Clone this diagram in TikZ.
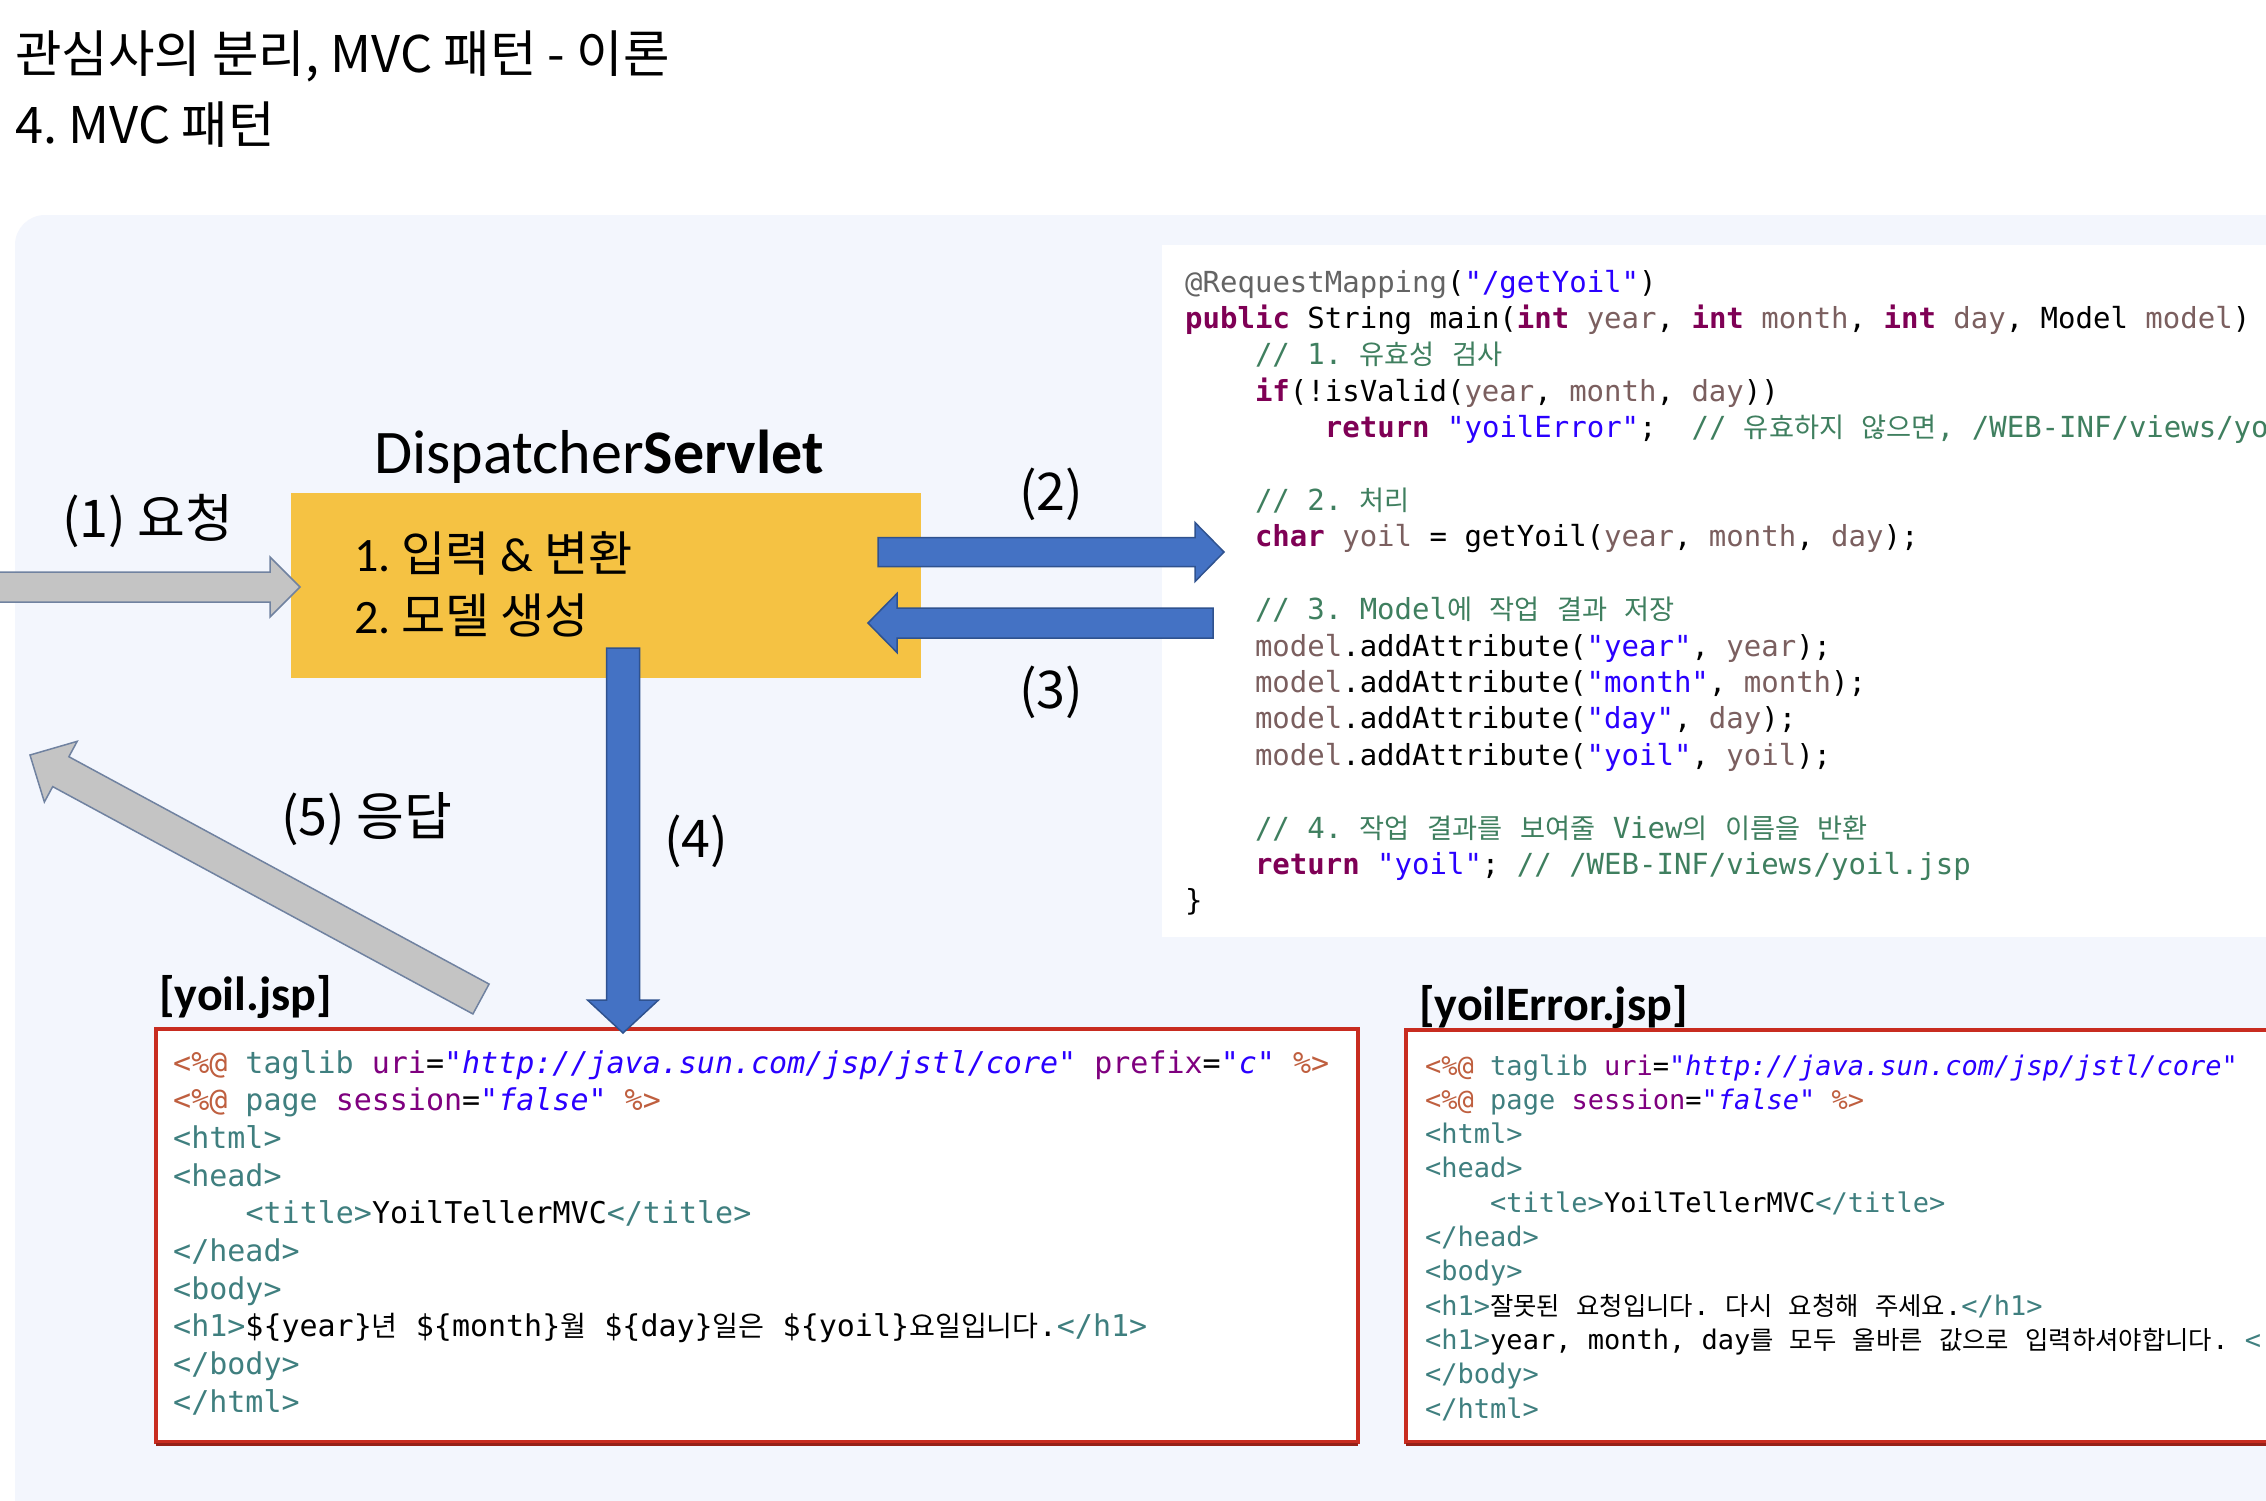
\documentclass[tikz,border=0pt]{standalone}
\usepackage{fontspec}
\setmonofont{DejaVu Sans Mono}
\newfontfamily\krf{Noto Sans CJK KR}
\newfontfamily\kmono[Scale=0.94]{Noto Sans CJK KR}
\newfontfamily\calf{Carlito}
\usetikzlibrary{calc}
\frenchspacing
\definecolor{bgc}{RGB}{243,246,253}
\definecolor{ylw}{RGB}{245,194,67}
\definecolor{bluefill}{RGB}{68,114,196}
\definecolor{blueline}{RGB}{47,82,143}
\definecolor{grayfill}{RGB}{196,196,196}
\definecolor{grayline}{RGB}{112,130,160}
\definecolor{redc}{RGB}{200,44,32}
\definecolor{kwc}{HTML}{7F0055}
\definecolor{cmc}{HTML}{3F7F5F}
\definecolor{stc}{HTML}{2A00FF}
\definecolor{vac}{HTML}{7B5F5F}
\definecolor{anc}{HTML}{646464}
\definecolor{jdc}{HTML}{BF5F3F}
\definecolor{jnc}{HTML}{3F7F7F}
\definecolor{jac}{HTML}{7F007F}
\definecolor{jtc}{HTML}{3F7F7F}
\newcommand\ckw[1]{{\bfseries\color{kwc}#1}}
\newcommand\ccm[1]{{\color{cmc}#1}}
\newcommand\cst[1]{{\color{stc}#1}}
\newcommand\cva[1]{{\color{vac}#1}}
\newcommand\can[1]{{\color{anc}#1}}
\newcommand\hk[1]{{\kmono #1}}
\newcommand\jd[1]{{\color{jdc}#1}}
\newcommand\jn[1]{{\color{jnc}#1}}
\newcommand\ja[1]{{\color{jac}#1}}
\newcommand\jv[1]{{\itshape\color{stc}#1}}
\newcommand\jt[1]{{\color{jtc}#1}}
% block arrow: #1 start, #2 end, #3 shaft half width, #4 head half width, #5 head length, #6 style
\newcommand\blockarrow[6]{%
  \coordinate (#1#2h) at ($(#2)!#5!(#1)$);
  \path[#6] ($(#1)!#3!90:(#2)$) -- ($(#1#2h)!#3!-90:(#1)$) -- ($(#1#2h)!#4!-90:(#1)$) -- (#2)
    -- ($(#1#2h)!#4!90:(#1)$) -- ($(#1#2h)!#3!90:(#1)$) -- ($(#1)!#3!-90:(#2)$) -- cycle;
}
\tikzset{
  box/.style={anchor=north west, inner sep=0pt, outer sep=0pt},
  jspbox/.style={fill=white, draw=redc, line width=3.5pt},
  codeln/.style={anchor=base west, inner sep=0pt, font=\fontsize{29}{36}\ttfamily},
  jspa/.style={anchor=base west, inner sep=0pt, font=\fontsize{30}{37}\ttfamily},
  jspb/.style={anchor=base west, inner sep=0pt, font=\fontsize{27}{34}\ttfamily},
  lbl/.style={inner sep=0pt, font=\fontsize{52}{60}\selectfont\krf},
  bluearrow/.style={fill=bluefill, draw=blueline, line width=1.5pt},
  grayarrow/.style={fill=grayfill, draw=grayline, line width=1.5pt},
}
\begin{document}
\begin{tikzpicture}[x=1pt,y=-1pt]
\useasboundingbox (0,0) rectangle (2266,1500);
\clip (0,0) rectangle (2266,1500);
\fill[white] (0,0) rectangle (2266,1500);
\fill[bgc, rounded corners=30pt] (15,215) rectangle (2340,1560);

% title
\node[anchor=base west, inner sep=0pt, font=\fontsize{50.5}{58}\selectfont\krf] (t1) at (15,72) {관심사의 분리, MVC 패턴 - 이론};
\node[anchor=base west, inner sep=0pt, font=\fontsize{50.5}{58}\selectfont\krf] (t2) at (15,143) {4. MVC 패턴};

% boxes
\node[box, fill=white, minimum width=1160pt, minimum height=692pt] (code) at (1162,245) {};
\node[box, fill=ylw, minimum width=630pt, minimum height=185pt] (ds) at (291,493) {};
\node[box, jspbox, minimum width=1202pt, minimum height=413pt] (jsp1) at (156,1029) {};
\node[box, jspbox, minimum width=900pt, minimum height=412pt] (jsp2) at (1406,1030) {};
\draw[redc!75!black, line width=2.5pt] ($(jsp1.south west)+(0,2.5)$) -- ($(jsp1.south east)+(0,2.5)$);
\draw[redc!75!black, line width=2.5pt] ($(jsp2.south west)+(0,2.5)$) -- ($(jsp2.south east)+(0,2.5)$);

% labels
\node[anchor=base west, inner sep=0pt, font=\fontsize{62}{70}\selectfont\calf] (dsname) at (374,473) {Dispatcher\textbf{Servlet}};
\node[anchor=base west, inner sep=0pt, font=\fontsize{48}{56}\selectfont\calf] (s1) at (354,571) {1. {\krf 입력} \& {\krf 변환}};
\node[anchor=base west, inner sep=0pt, font=\fontsize{48}{56}\selectfont\calf] (s2) at (354,633) {2. {\krf 모델} {\krf 생성}};
\node[lbl, anchor=base west] (l1) at (62,537) {(1) 요청};
\node[lbl, anchor=base] (l2) at (1051,510) {(2)};
\node[lbl, anchor=base] (l3) at (1051,708) {(3)};
\node[lbl, anchor=base] (l4) at (696,857) {(4)};
\node[lbl, anchor=base west] (l5) at (281,835) {(5) 응답};
\node[anchor=base west, inner sep=0pt, font=\fontsize{48}{56}\selectfont\calf\bfseries] (n1) at (159,1010) {[yoil.jsp]};
\node[anchor=base west, inner sep=0pt, font=\fontsize{48}{56}\selectfont\calf\bfseries] (n2) at (1419,1020) {[yoilError.jsp]};

% arrows
\coordinate (a1s) at (-20,587);
\coordinate (a1e) at ($(ds.west)+(9,1.5)$);
\coordinate (a2s) at ($(ds.east)+(-43,-33.5)$);
\coordinate (a2e) at ($(code.west)+(62,-39)$);
\coordinate (a3s) at ($(code.west)+(51,32)$);
\coordinate (a3e) at ($(ds.east)+(-53,37.5)$);
\coordinate (a4s) at ($(ds.south)+(17,-30)$);
\coordinate (a4e) at ($(jsp1.north)+(-134,4)$);
\coordinate (a5s) at ($(jsp1.north west)+(325,-30)$);
\coordinate (a5e) at (30,755);
\blockarrow{a1s}{a1e}{15pt}{30pt}{30pt}{grayarrow}
\blockarrow{a2s}{a2e}{14.5pt}{29.5pt}{29pt}{bluearrow}
\blockarrow{a3s}{a3e}{15pt}{29.5pt}{29pt}{bluearrow}
\blockarrow{a4s}{a4e}{16.5pt}{35.5pt}{33pt}{bluearrow}
\blockarrow{a5s}{a5e}{17pt}{34.5pt}{35pt}{grayarrow}

% controller code
\node[codeln] (c1) at (1185,292) {\can{@RequestMapping}(\cst{"/getYoil"})};
\node[codeln] (c2) at (1185,328.4) {\ckw{public} String main(\ckw{int} \cva{year}, \ckw{int} \cva{month}, \ckw{int} \cva{day}, Model \cva{model})};
\node[codeln] (c3) at (1254.8,364.8) {\ccm{// 1. \hk{유효성} \hk{검사}}};
\node[codeln] (c4) at (1254.8,401.2) {\ckw{if}(!isValid(\cva{year}, \cva{month}, \cva{day}))};
\node[codeln] (c5) at (1324.7,437.6) {\ckw{return} \cst{"yoilError"};\ \ \ccm{// \hk{유효하지} \hk{않으면}, /WEB-INF/views/yo}};
\node[codeln] (c7) at (1254.8,510.4) {\ccm{// 2. \hk{처리}}};
\node[codeln] (c8) at (1254.8,546.8) {\ckw{char} \cva{yoil} = getYoil(\cva{year}, \cva{month}, \cva{day});};
\node[codeln] (c10) at (1254.8,619.6) {\ccm{// 3. Model\hk{에} \hk{작업} \hk{결과} \hk{저장}}};
\node[codeln] (c11) at (1254.8,656) {\cva{model}.addAttribute(\cst{"year"}, \cva{year});};
\node[codeln] (c12) at (1254.8,692.4) {\cva{model}.addAttribute(\cst{"month"}, \cva{month});};
\node[codeln] (c13) at (1254.8,728.8) {\cva{model}.addAttribute(\cst{"day"}, \cva{day});};
\node[codeln] (c14) at (1254.8,765.2) {\cva{model}.addAttribute(\cst{"yoil"}, \cva{yoil});};
\node[codeln] (c16) at (1254.8,838) {\ccm{// 4. \hk{작업} \hk{결과를} \hk{보여줄} View\hk{의} \hk{이름을} \hk{반환}}};
\node[codeln] (c17) at (1254.8,874.4) {\ckw{return} \cst{"yoil"}; \ccm{// /WEB-INF/views/yoil.jsp}};
\node[codeln] (c18) at (1185,910.8) {\}};

% yoil.jsp
\node[jspa] (p1) at (173,1073) {\jd{<\%@} \jn{taglib} \ja{uri}=\jv{"http://java.sun.com/jsp/jstl/core"} \ja{prefix}=\jv{"c"} \jd{\%>}};
\node[jspa] (p2) at (173,1110.7) {\jd{<\%@} \jn{page} \ja{session}=\jv{"false"} \jd{\%>}};
\node[jspa] (p3) at (173,1148.4) {\jt{<html>}};
\node[jspa] (p4) at (173,1186.1) {\jt{<head>}};
\node[jspa] (p5) at (245.4,1223.8) {\jt{<title>}YoilTellerMVC\jt{</title>}};
\node[jspa] (p6) at (173,1261.5) {\jt{</head>}};
\node[jspa] (p7) at (173,1299.2) {\jt{<body>}};
\node[jspa] (p8) at (173,1336.9) {\jt{<h1>}\$\{year\}\hk{년} \$\{month\}\hk{월} \$\{day\}\hk{일은} \$\{yoil\}\hk{요일입니다}.\jt{</h1>}};
\node[jspa] (p9) at (173,1374.6) {\jt{</body>}};
\node[jspa] (p10) at (173,1412.3) {\jt{</html>}};

% yoilError.jsp
\node[jspb] (q1) at (1425,1075) {\jd{<\%@} \jn{taglib} \ja{uri}=\jv{"http://java.sun.com/jsp/jstl/core"}};
\node[jspb] (q2) at (1425,1109.3) {\jd{<\%@} \jn{page} \ja{session}=\jv{"false"} \jd{\%>}};
\node[jspb] (q3) at (1425,1143.6) {\jt{<html>}};
\node[jspb] (q4) at (1425,1177.9) {\jt{<head>}};
\node[jspb] (q5) at (1490,1212.2) {\jt{<title>}YoilTellerMVC\jt{</title>}};
\node[jspb] (q6) at (1425,1246.5) {\jt{</head>}};
\node[jspb] (q7) at (1425,1280.8) {\jt{<body>}};
\node[jspb] (q8) at (1425,1315.1) {\jt{<h1>}\hk{잘못된} \hk{요청입니다}. \hk{다시} \hk{요청해} \hk{주세요}.\jt{</h1>}};
\node[jspb] (q9) at (1425,1349.4) {\jt{<h1>}year, month, day\hk{를} \hk{모두} \hk{올바른} \hk{값으로} \hk{입력하셔야합니다}. \jt{<}};
\node[jspb] (q10) at (1425,1383.7) {\jt{</body>}};
\node[jspb] (q11) at (1425,1418) {\jt{</html>}};
\end{tikzpicture}
\end{document}
